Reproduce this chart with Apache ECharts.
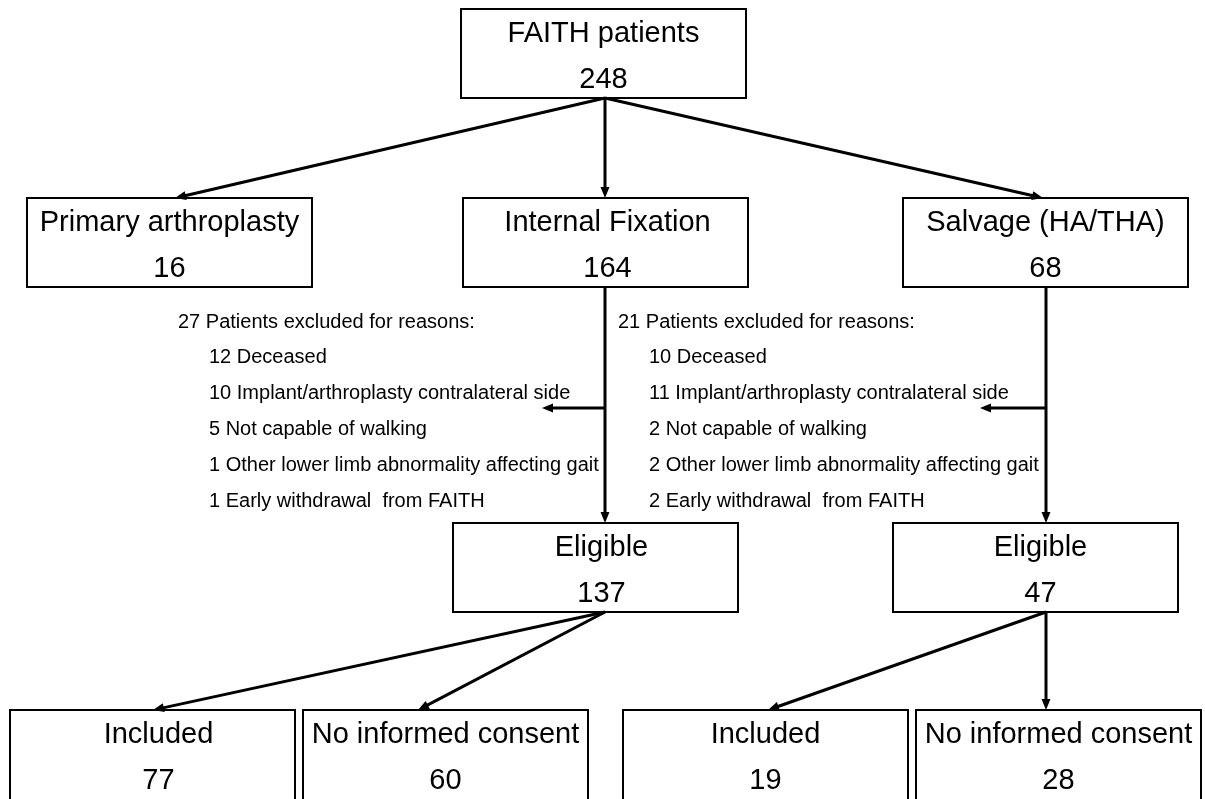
<!DOCTYPE html>
<html>
<head>
<meta charset="utf-8">
<script src="https://cdn.jsdelivr.net/npm/echarts@6/dist/echarts.min.js"></script>
<style>
html,body{margin:0;padding:0;background:#fff;}
#chart{width:1205px;height:799px;}
</style>
</head>
<body>
<div id="chart"></div>
<script>
// ---- data ----
var boxTitles = ['FAITH patients','Primary arthroplasty','Internal Fixation','Salvage (HA/THA)','Eligible','Eligible','Included','No informed consent','Included','No informed consent'];
var boxCounts = [248, 16, 164, 68, 137, 47, 77, 60, 19, 28];
var exclusionLeftHeader = '27 Patients excluded for reasons:';
var exclusionLeftItems = ['12 Deceased','10 Implant/arthroplasty contralateral side','5 Not capable of walking','1 Other lower limb abnormality affecting gait','1 Early withdrawal  from FAITH'];
var exclusionRightHeader = '21 Patients excluded for reasons:';
var exclusionRightItems = ['10 Deceased','11 Implant/arthroplasty contralateral side','2 Not capable of walking','2 Other lower limb abnormality affecting gait','2 Early withdrawal  from FAITH'];

// ---- layout (positions in page pixels, mapped through hidden axes) ----
var BOX_W = 285, BOX_H = 89;
var boxLayout = [
  [461, 9, 0], [27, 198, 0], [463, 198, 2], [903, 198, 0],
  [453, 523, 6], [893, 523, 5],
  [10, 710, 6], [303, 710, 0], [623, 710, 0], [916, 710, 0]
];
var arrowLayout = [
  [605, 98, 175, 198], [605, 98, 605, 198], [605, 98, 1043, 198],
  [605, 287, 605, 523], [605, 408, 542, 408],
  [1046, 287, 1046, 523], [1046, 408, 980, 408],
  [605, 612, 153, 710], [605, 612, 418, 710],
  [1046, 612, 768, 710], [1046, 612, 1046, 710]
];
var textBlocks = [
  {x: 178, ix: 209, y: 322, header: exclusionLeftHeader, items: exclusionLeftItems},
  {x: 618, ix: 649, y: 322, header: exclusionRightHeader, items: exclusionRightItems}
];
var LINE_STEP = 35.8;

var FONT = '"Liberation Sans", Arial, sans-serif';

var chart = echarts.init(document.getElementById('chart'));

var boxData = boxLayout.map(function (b, i) { return [b[0], b[1], i]; });
var arrowData = arrowLayout.map(function (a) { return a.slice(); });
var textData = [];
textBlocks.forEach(function (blk) {
  textData.push([blk.x, blk.y, blk.header]);
  blk.items.forEach(function (it, k) {
    textData.push([blk.ix, blk.y + LINE_STEP * (k + 1), it]);
  });
});

var option = {
  animation: false,
  backgroundColor: '#ffffff',
  grid: {left: 0, right: 0, top: 0, bottom: 0},
  xAxis: {type: 'value', min: 0, max: 1205, show: false},
  yAxis: {type: 'value', min: 0, max: 799, inverse: true, show: false},
  series: [
    {
      type: 'custom',
      coordinateSystem: 'cartesian2d',
      clip: false,
      data: boxData,
      encode: {x: 0, y: 1},
      renderItem: function (params, api) {
        var i = api.value(2);
        var p0 = api.coord([api.value(0), api.value(1)]);
        var p1 = api.coord([api.value(0) + BOX_W, api.value(1) + BOX_H + (i >= 6 ? 10 : 0)]);
        var dx = boxLayout[i][2];
        var cx = (p0[0] + p1[0]) / 2 + dx;
        var top = p0[1];
        return {
          type: 'group',
          children: [
            {type: 'rect', shape: {x: p0[0], y: p0[1], width: p1[0] - p0[0], height: p1[1] - p0[1]},
             style: {fill: '#ffffff', stroke: '#000000', lineWidth: 2}},
            {type: 'text', style: {text: boxTitles[i], x: cx, y: top + 25, align: 'center', verticalAlign: 'middle',
              fill: '#000000', font: '29px ' + FONT}},
            {type: 'text', style: {text: String(boxCounts[i]), x: cx, y: top + 71, align: 'center', verticalAlign: 'middle',
              fill: '#000000', font: '29px ' + FONT}}
          ]
        };
      }
    },
    {
      type: 'custom',
      coordinateSystem: 'cartesian2d',
      clip: false,
      data: arrowData,
      encode: {x: [0, 2], y: [1, 3]},
      renderItem: function (params, api) {
        var a = api.coord([api.value(0), api.value(1)]);
        var b = api.coord([api.value(2), api.value(3)]);
        var ang = Math.atan2(b[1] - a[1], b[0] - a[0]);
        var L = 11, W = 4.5;
        var ux = Math.cos(ang), uy = Math.sin(ang);
        var bx = b[0] - ux * L, by = b[1] - uy * L;
        return {
          type: 'group',
          children: [
            {type: 'line', shape: {x1: a[0], y1: a[1], x2: b[0] - ux * (L - 2), y2: b[1] - uy * (L - 2)},
             style: {stroke: '#000000', lineWidth: 3}},
            {type: 'polygon', shape: {points: [[b[0], b[1]], [bx - uy * W, by + ux * W], [bx + uy * W, by - ux * W]]},
             style: {fill: '#000000'}}
          ]
        };
      }
    },
    {
      type: 'custom',
      coordinateSystem: 'cartesian2d',
      clip: false,
      data: textData,
      encode: {x: 0, y: 1},
      renderItem: function (params, api) {
        var p = api.coord([api.value(0), api.value(1)]);
        return {type: 'text', style: {text: textData[params.dataIndex][2], x: p[0], y: p[1], align: 'left', verticalAlign: 'middle',
          fill: '#000000', font: '20px ' + FONT}};
      }
    }
  ]
};
chart.setOption(option);
</script>
</body>
</html>
